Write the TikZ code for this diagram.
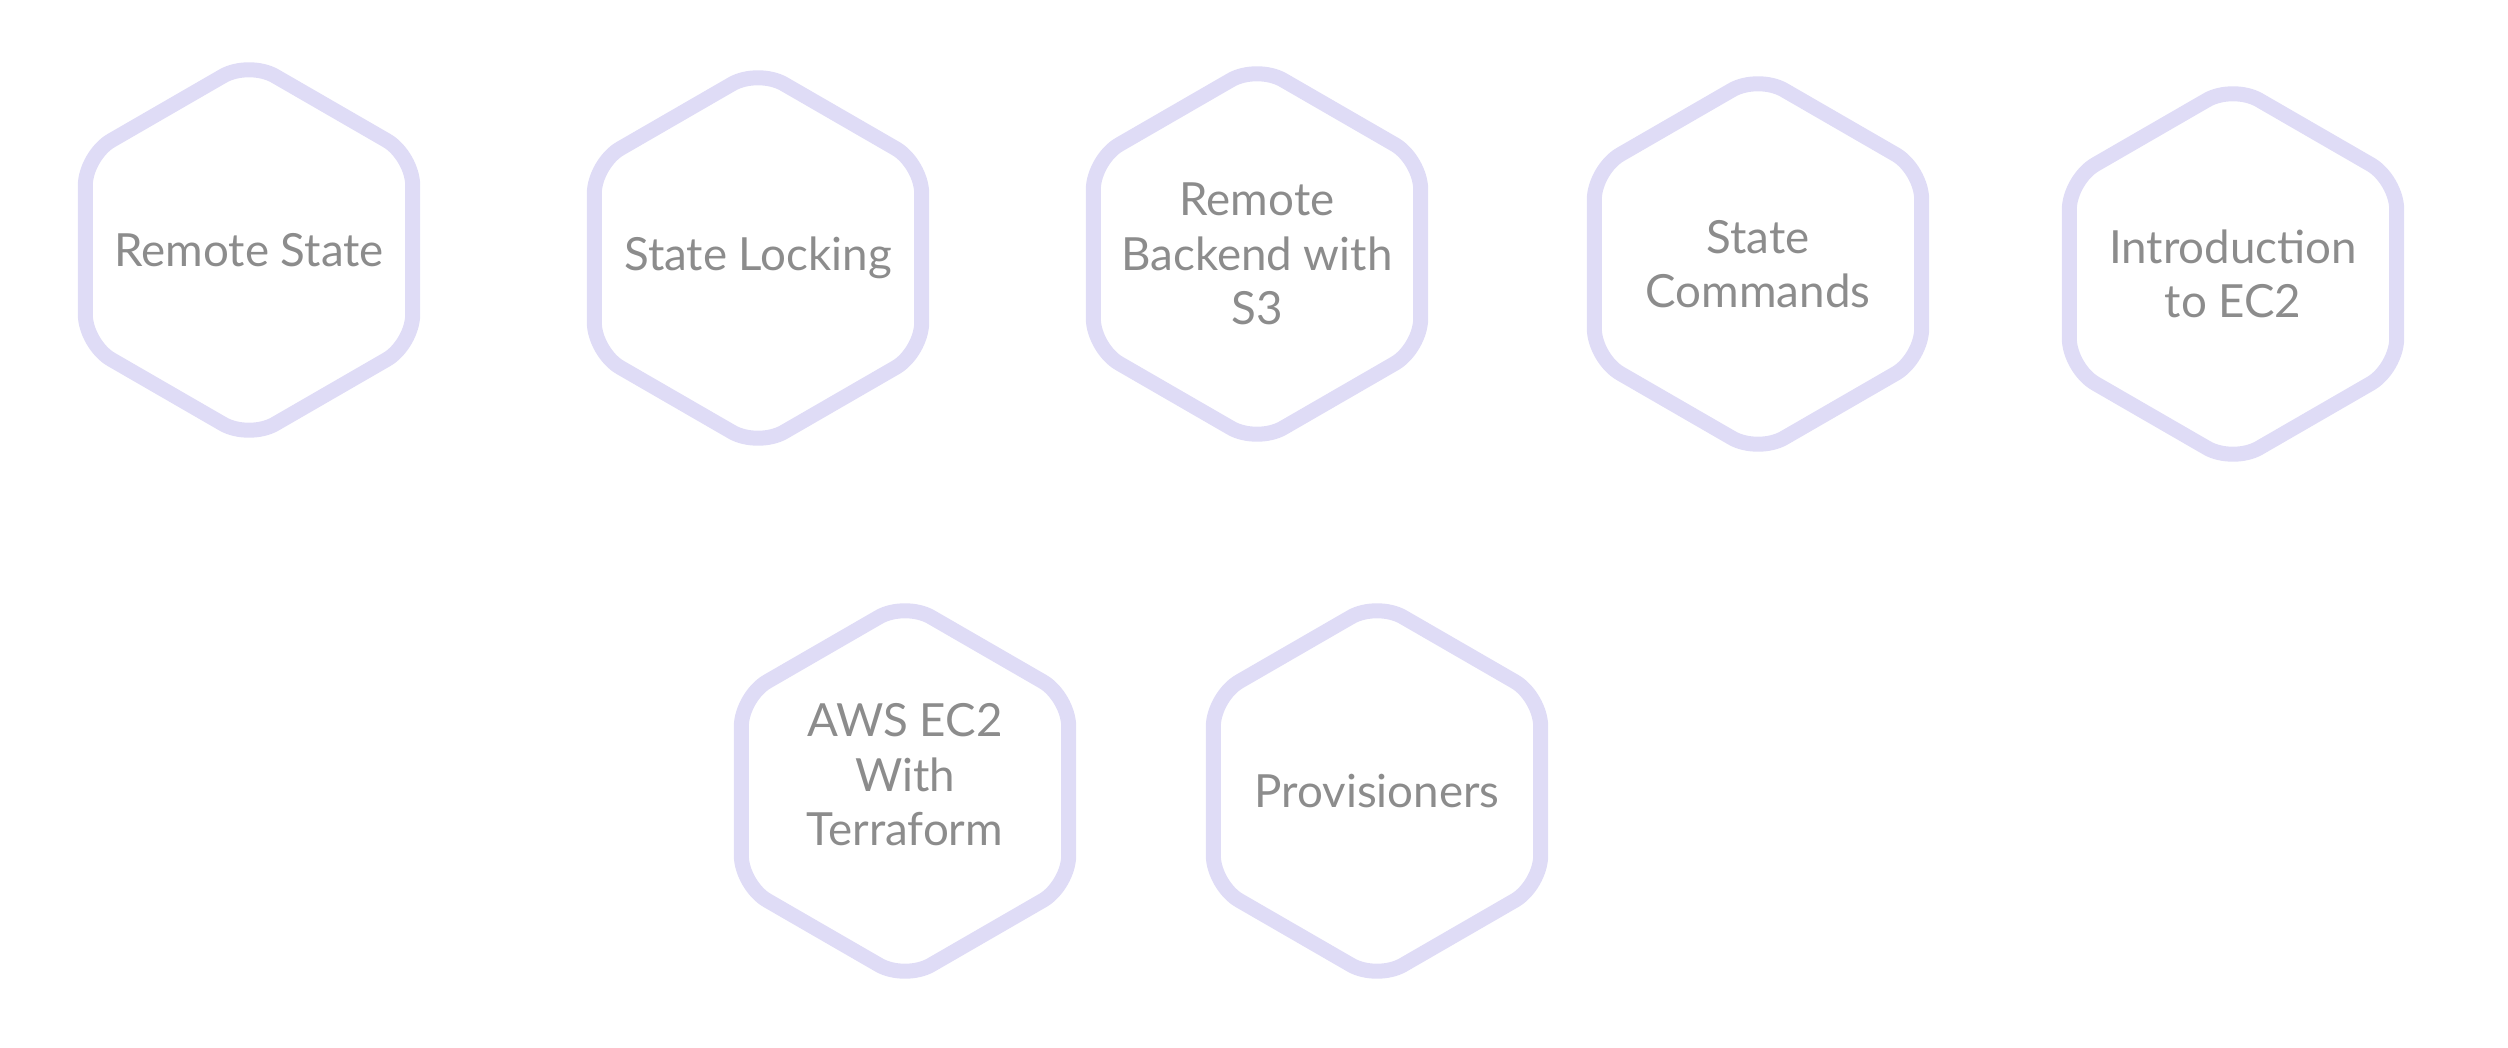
\documentclass[tikz,border=0pt]{standalone}
\usepackage{fontspec}
\setmainfont{Lato}
\usetikzlibrary{shapes.geometric}
\definecolor{hexline}{HTML}{DFDCF6}
\definecolor{hextext}{HTML}{8C8C8C}
\begin{document}
\begin{tikzpicture}
[hexdecorate/.style={shape=regular polygon,regular polygon sides=6,regular polygon rotate=30,%
  minimum size=3.78cm,inner sep=0pt,draw=hexline,line width=0.15cm,rounded corners=0.3cm},%
  textdecorate/.style={text=hextext,align=center,font=\fontsize{13}{15.5}\selectfont}]
\useasboundingbox (0,0) rectangle (25.08,-10.48);
% hexagons, top row
\node (remote) at (2.49,-2.50) [hexdecorate] {};
\node (locking) at (7.58,-2.58) [hexdecorate] {};
\node (backend) at (12.57,-2.54) [hexdecorate] {};
\node (commands) at (17.58,-2.64) [hexdecorate] {};
\node (intro) at (22.33,-2.74) [hexdecorate] {};
% hexagons, bottom row
\node (awsec2) at (9.05,-7.91) [hexdecorate] {};
\node (prov) at (13.77,-7.91) [hexdecorate] {};
% texts
\node [textdecorate] at (remote) {Remote State};
\node [textdecorate] at (locking) {State Locking};
\node [textdecorate] at (backend) {Remote\\Backend with\\S3};
\node [textdecorate] at (commands) {State\\Commands};
\node [textdecorate] at (intro) {Introduction\\to EC2};
\node [textdecorate] at ([yshift=0.16cm]awsec2.center) {AWS EC2\\With\\Terraform};
\node [textdecorate] at (prov) {Provisioners};
\end{tikzpicture}
\end{document}
